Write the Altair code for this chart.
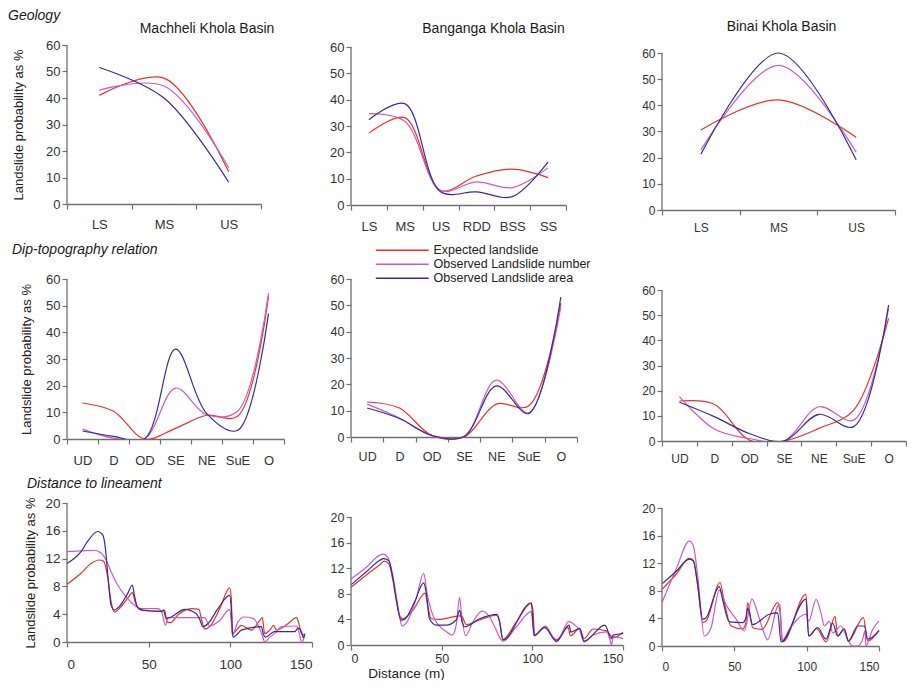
import altair as alt
import pandas as pd

FONT = "Liberation Sans"
SERIES = ["Expected landslide", "Observed Landslide number", "Observed Landslide area"]
COLORS = ["#e5322a", "#c65bc8", "#372d8e"]
AXIS_GREY = "#707070"

# ---------------- categories ----------------
geo3_cats = ["LS", "MS", "US"]
geo6_cats = ["LS", "MS", "US", "RDD", "BSS", "SS"]
dip_cats = ["UD", "D", "OD", "SE", "NE", "SuE", "O"]

# ---------------- Geology ----------------
machheli_geo_expected = [41.0, 47.5, 12.2]
machheli_geo_number = [43.0, 44.5, 13.7]
machheli_geo_area = [51.5, 40.0, 8.2]

banganga_geo_expected = [27.3, 33.2, 5.5, 11.0, 13.6, 10.4]
banganga_geo_number = [34.7, 31.8, 5.5, 8.8, 6.6, 14.1]
banganga_geo_area = [32.4, 38.5, 5.0, 5.0, 3.2, 16.4]

binai_geo_expected = [30.6, 42.1, 27.8]
binai_geo_number = [23.0, 55.3, 22.1]
binai_geo_area = [21.3, 60.0, 19.2]

# ---------------- Dip-topography ----------------
machheli_dip_expected = [13.5, 10.4, 0.0, 4.0, 8.9, 8.5, 53.5]
machheli_dip_number = [3.7, 0.3, 0.0, 19.1, 9.1, 10.4, 54.7]
machheli_dip_area = [3.0, 1.0, 0.0, 33.7, 9.6, 3.2, 47.0]

banganga_dip_expected = [13.3, 11.0, 0.6, 0.0, 12.5, 11.8, 50.8]
banganga_dip_number = [12.5, 7.2, 0.6, 0.2, 21.6, 9.1, 49.5]
banganga_dip_area = [11.0, 7.0, 0.6, 0.2, 19.4, 8.9, 53.1]

binai_dip_expected = [15.9, 14.6, 0.4, 0.0, 5.0, 12.3, 48.7]
binai_dip_number = [17.6, 4.8, 1.0, 0.0, 13.6, 8.3, 52.7]
binai_dip_area = [15.4, 9.7, 3.0, 0.0, 10.6, 5.7, 54.0]

# ---------------- Distance to lineament ----------------
m_exp_x = [0, 8.6, 14.7, 19.8, 22.5, 25, 27, 29, 32, 37.2, 40, 41.7, 43.8, 47.4, 57.7, 59.7, 61.3, 63.4, 67.9, 76, 80.8, 82.2, 84.3, 87.3, 93.5, 99.6, 100.6, 101.2, 103.7, 106.7, 112.9, 118, 119.6, 121, 124.1, 126.6, 128.2, 135.4, 140.5, 142, 143.6, 145.6]
m_exp_y = [8.3, 9.9, 11.3, 11.8, 11.6, 9.2, 5.8, 4.3, 4.8, 6.3, 7.1, 5.8, 4.8, 4.5, 4.4, 4.6, 2.9, 2.8, 3.9, 4.8, 4.7, 3.4, 1.9, 2.2, 4.8, 7.8, 6.3, 1.2, 1.7, 2.4, 1.7, 3.1, 3.5, 1.2, 1.7, 2.4, 1.7, 2.65, 3.5, 2.65, 1.2, 1.0]
m_num_x = [0, 8.6, 16.8, 20.9, 23.9, 27, 31, 36.2, 41.3, 45.4, 55.6, 58, 60.3, 61.8, 84.3, 87.3, 93.5, 99.6, 100.6, 101.2, 104.7, 108.4, 113.9, 118, 120.2, 121, 124.1, 127, 131.3, 140.5, 142, 143.6, 145, 145.6]
m_num_y = [13.0, 13.1, 13.2, 12.8, 11.8, 10.1, 8.2, 6.5, 5.3, 4.8, 4.8, 4.3, 2.4, 3.5, 3.5, 2.3, 3.1, 4.7, 2.9, 1.0, 2.9, 3.6, 3.4, 1.9, 0.5, 0.0, 0.7, 1.2, 2.2, 2.3, 1.45, 0.0, 0.5, 1.0]
m_area_x = [0, 8.6, 12.7, 18.8, 21.9, 23.5, 25, 27, 29, 32, 37.2, 40, 41.3, 43, 46.4, 57.7, 59, 60.7, 63.8, 72, 79, 81, 83.2, 86.3, 92.4, 99.6, 100.6, 101.6, 103.7, 106.7, 119, 120.4, 121.5, 127, 139.5, 141.5, 143.6, 144.6, 145.6]
m_area_y = [11.3, 13.0, 14.5, 15.9, 15.4, 13.5, 9.6, 5.3, 4.6, 5.1, 7.0, 8.2, 6.7, 5.1, 4.6, 4.4, 4.6, 3.4, 3.6, 4.7, 4.1, 3.4, 2.2, 2.65, 4.8, 6.7, 4.8, 0.7, 1.0, 1.7, 2.2, 1.0, 0.7, 1.5, 1.5, 2.0, 1.45, 0.6, 1.2]

b_exp_x = [0, 8.3, 15.7, 18.4, 20.8, 23, 24.9, 26.7, 28.5, 34.1, 40.9, 42.3, 44.2, 48.8, 59.9, 61.3, 63.5, 70.9, 80.1, 81.6, 83.8, 91.2, 99.4, 100.4, 101.3, 106.8, 113.3, 119.7, 121, 126.1, 128.5, 133.5, 140.9, 144.6, 150]
b_exp_y = [9.0, 10.9, 12.5, 13.1, 12.7, 10.3, 7.2, 4.65, 4.1, 5.4, 8.1, 6.2, 4.1, 4.0, 4.55, 4.4, 3.2, 3.9, 4.65, 4.0, 0.9, 3.6, 6.5, 5.2, 1.55, 2.85, 0.8, 2.75, 1.45, 2.6, 1.0, 2.5, 2.2, 1.15, 2.0]
b_num_x = [0, 8.3, 15.7, 17.9, 20.3, 23, 24.9, 26.7, 28.2, 30.4, 35.9, 40.1, 42, 46, 52.5, 55.8, 58, 59.9, 60.8, 63.2, 67.2, 72.4, 76.4, 79.2, 83.8, 91.2, 99.4, 101, 107.2, 113.3, 120.3, 123.4, 126.1, 128.5, 133.5, 140.9, 142.7, 143.6, 144.6, 150]
b_num_y = [10.3, 12.1, 14.0, 14.2, 13.7, 10.9, 7.75, 4.65, 2.95, 3.4, 7.2, 11.2, 8.0, 4.1, 2.1, 1.55, 3.1, 7.45, 5.2, 1.45, 3.6, 5.3, 4.4, 2.85, 0.6, 2.85, 5.2, 1.45, 2.95, 0.5, 3.7, 3.1, 2.3, 0.5, 1.55, 2.05, 1.0, 0.0, 1.3, 1.0]
b_area_x = [0, 8.3, 15.7, 17.9, 20.8, 23, 24.9, 27.6, 29.5, 35, 40.1, 41.4, 43.3, 47, 52.5, 58, 59.9, 61.3, 62.6, 70.9, 80.5, 82, 83.8, 99.4, 101, 106.8, 113.3, 120.3, 121.2, 126.1, 128.5, 140, 143.6, 144.6, 150]
b_area_y = [9.4, 11.4, 13.2, 13.5, 13.2, 10.6, 7.2, 3.9, 4.0, 6.7, 9.7, 8.3, 4.1, 3.1, 3.1, 3.9, 5.4, 3.6, 2.85, 4.1, 4.8, 3.6, 0.8, 6.6, 1.45, 2.7, 0.6, 3.1, 2.0, 2.6, 0.6, 3.1, 1.0, 1.55, 1.8]

n_exp_x = [0, 9.7, 18.9, 21.7, 24.7, 28.1, 30.4, 40.1, 43.1, 47.7, 55.8, 58, 59.2, 62.7, 69.1, 80, 81.6, 83.4, 99.5, 101.4, 106.9, 113.4, 119.6, 121.4, 126, 128.8, 139.2, 142.2, 150]
n_exp_y = [8.2, 10.4, 12.7, 12.4, 8.7, 3.4, 3.6, 9.2, 6.3, 2.9, 2.5, 3.4, 6.3, 2.65, 2.4, 6.3, 4.8, 0.6, 7.5, 1.45, 2.5, 0.6, 4.3, 1.45, 2.4, 0.7, 4.1, 0.7, 2.3]
n_num_x = [0, 9.7, 18.9, 21.7, 24.7, 29.3, 33.9, 39.6, 44.2, 51.2, 56.9, 62.2, 66.1, 69.6, 73, 80, 81.6, 82.9, 88, 99.5, 101.4, 106.5, 109.9, 112.2, 115.7, 118, 123.7, 128.3, 131.8, 135.3, 138.7, 140.3, 141, 145.6, 150]
n_num_y = [6.3, 11.1, 15.2, 14.5, 10.1, 1.45, 2.65, 8.1, 6.0, 3.9, 2.2, 6.8, 4.8, 2.4, 0.9, 5.8, 6.0, 0.7, 2.4, 4.6, 3.6, 6.75, 4.8, 2.9, 3.6, 1.9, 2.9, 1.0, 0.0, 0.0, 1.0, 2.2, 0.0, 2.4, 3.6]
n_area_x = [0, 9.7, 18.9, 21.7, 24.7, 28.1, 30.4, 39.6, 41.9, 46.5, 55.8, 58, 59.2, 62.7, 74.2, 80, 82.3, 99.5, 101.4, 107.6, 113.4, 118, 121.4, 126, 128.8, 135.3, 139.9, 142.2, 150]
n_area_y = [9.0, 10.8, 12.6, 12.3, 8.9, 3.9, 4.1, 8.6, 6.7, 3.5, 3.4, 4.1, 5.5, 3.1, 4.6, 4.8, 0.6, 6.8, 1.45, 2.65, 1.0, 3.3, 1.45, 2.5, 0.7, 2.9, 2.9, 1.0, 2.2]

YTITLE = "Landslide probability as %"


def y_axis(ticks, lab, h, ytitle_x):
    ax = dict(values=ticks, labelFontSize=lab, title=None, domain=False)
    if ytitle_x is not None:
        ax.update(title=YTITLE, titleX=ytitle_x, titleY=h / 2, titleAngle=270,
                  titleAlign="center", titleBaseline="middle", titleFontSize=13,
                  titleFontWeight="normal", titleColor="#222222")
    return alt.Axis(**ax)


def finish(lines, ticks, yscale, yaxis, w, h, title):
    # axis line drawn from 0 to the top tick (the plot area may reach a bit higher)
    rule_df = pd.DataFrame({"value": [ticks[0]], "value_end": [ticks[-1]]})
    rule = alt.Chart(rule_df).mark_rule(color=AXIS_GREY, strokeWidth=1.3).encode(
        x=alt.value(0),
        y=alt.Y("value:Q", scale=yscale, axis=yaxis),
        y2="value_end:Q",
    )
    ch = alt.layer(lines, rule).properties(width=w, height=h)
    if title is not None:
        ch = ch.properties(title=title)
    return ch


def cat_panel(cats, vals, w, hr, ext, ymax, ystep, lab, pad, clip=False, title=None,
              ytitle_x=None, legend=None):
    rows = [{"cat": c, "series": s, "value": v}
            for s, vv in zip(SERIES, vals) for c, v in zip(cats, vv)]
    df = pd.DataFrame(rows)
    h = hr + ext
    ticks = list(range(0, ymax + 1, ystep))
    yscale = alt.Scale(domain=[0, ymax * h / hr], nice=False)
    yaxis = y_axis(ticks, lab, h + ext, ytitle_x)
    lines = alt.Chart(df).mark_line(interpolate="catmull-rom", strokeWidth=1.2, clip=clip).encode(
        x=alt.X("cat:N", sort=cats,
                scale=alt.Scale(type="band", paddingInner=0, paddingOuter=0),
                axis=alt.Axis(title=None, tickBand="extent", labelAngle=0,
                              labelFontSize=lab, labelPadding=pad)),
        y=alt.Y("value:Q", scale=yscale, axis=yaxis),
        color=alt.Color("series:N", scale=alt.Scale(domain=SERIES, range=COLORS), legend=legend),
    )
    return finish(lines, ticks, yscale, yaxis, w, h, title)


def dist_panel(xy, w, hr, ext, lab, pad, title=None, ytitle_x=None, xtitle=None):
    rows = []
    for s, (xs, ys) in zip(SERIES, xy):
        for a, b in zip(xs, ys):
            rows.append({"dist": a, "series": s, "value": b})
    df = pd.DataFrame(rows)
    h = hr + ext
    ticks = [0, 4, 8, 12, 16, 20]
    yscale = alt.Scale(domain=[0, 20 * h / hr], nice=False)
    yaxis = y_axis(ticks, lab, h + ext, ytitle_x)
    xax = dict(values=[0, 50, 100, 150], labelFontSize=lab, labelPadding=pad, title=None)
    if xtitle is not None:
        xax.update(title=xtitle[0], titleX=xtitle[1], titleY=xtitle[2], titleAlign="center",
                   titleBaseline="alphabetic", titleFontSize=13.5, titleFontWeight="normal",
                   titleColor="#222222")
    lines = alt.Chart(df).mark_line(interpolate="monotone", strokeWidth=1.2).encode(
        x=alt.X("dist:Q", scale=alt.Scale(domain=[0, 150], nice=False), axis=alt.Axis(**xax)),
        y=alt.Y("value:Q", scale=yscale, axis=yaxis),
        color=alt.Color("series:N", scale=alt.Scale(domain=SERIES, range=COLORS), legend=None),
    )
    return finish(lines, ticks, yscale, yaxis, w, h, title)


def spacer(h, title=None):
    ch = alt.Chart(pd.DataFrame({"v": [0]})).mark_point(opacity=0, size=1).encode(
        x=alt.value(0), y=alt.value(0)).properties(width=1, height=h)
    if title is not None:
        ch = ch.properties(title=title)
    return ch


def ttl(text, anchor, dx, offset, italic=False):
    kw = dict(anchor=anchor, frame="group", dx=dx, offset=offset)
    if italic:
        kw["fontStyle"] = "italic"
    return alt.TitleParams(text, **kw)


legend = alt.Legend(title=None, orient="none", legendX=45, legendY=-35, symbolType="M-5,0H5",
                    symbolSize=112, symbolStrokeWidth=1.3, labelOffset=25, labelFontSize=12.5,
                    labelFont=FONT, labelColor="#222222", rowPadding=1, padding=0, labelLimit=0)

# row 1 (plot tops aligned at the highest one; lower panels get a taller area above the top tick)
p1 = cat_panel(geo3_cats, [machheli_geo_expected, machheli_geo_number, machheli_geo_area],
               194, 159, 0, 60, 10, 13, 9, ytitle_x=-49,
               title=ttl("Machheli Khola Basin", "middle", 43, 3.3))
p2 = cat_panel(geo6_cats, [banganga_geo_expected, banganga_geo_number, banganga_geo_area],
               215, 158, 2, 60, 10, 13, 10,
               title=ttl("Banganga Khola Basin", "middle", 35, 5.3))
p3 = cat_panel(geo3_cats, [binai_geo_expected, binai_geo_number, binai_geo_area],
               233, 157, 8, 60, 10, 12, 7.6,
               title=ttl("Binai Khola Basin", "middle", 3, 11))

# row 2
p4 = cat_panel(dip_cats, [machheli_dip_expected, machheli_dip_number, machheli_dip_area],
               217, 160, 0, 60, 10, 13, 10, clip=True, ytitle_x=-41,
               title=ttl("Dip-topography relation", "start", -55, 16, italic=True))
p5 = cat_panel(dip_cats, [banganga_dip_expected, banganga_dip_number, banganga_dip_area],
               226, 158, 0, 60, 10, 12.5, 8.4, legend=legend)
p6 = cat_panel(dip_cats, [binai_dip_expected, binai_dip_number, binai_dip_area],
               244, 151, 11, 60, 10, 12, 7.6, clip=True)

# row 3
p7 = dist_panel([(m_exp_x, m_exp_y), (m_num_x, m_num_y), (m_area_x, m_area_y)],
                245, 139, 0, 13.5, 10.3, ytitle_x=-37,
                title=ttl("Distance to lineament", "start", -40, 5.5, italic=True))
p8 = dist_panel([(b_exp_x, b_exp_y), (b_num_x, b_num_y), (b_area_x, b_area_y)],
                272, 128, 14, 12.5, 2, xtitle=("Distance (m)", 55, 32))
p9 = dist_panel([(n_exp_x, n_exp_y), (n_num_x, n_num_y), (n_area_x, n_area_y)],
                217, 138, 5, 12, 10.6)

cells = [
    spacer(1, ttl("Geology", "start", -59, 20.5, italic=True)), spacer(1), spacer(1),
    p1, p2, p3,
    spacer(69), spacer(69), spacer(69),
    p4, p5, p6,
    spacer(62), spacer(62), spacer(62),
    p7, p8, p9,
]

chart = alt.concat(
    *cells, columns=3, align="each", bounds="flush", spacing={"row": 0, "column": 39}
).properties(
    padding={"top": 1, "left": 0, "right": 0, "bottom": 0}
).resolve_scale(color="independent").resolve_legend(
    color="independent"
).configure_view(stroke=None).configure_axis(
    domainColor=AXIS_GREY, tickColor=AXIS_GREY, domainWidth=1.3, tickWidth=1.2, tickSize=5,
    labelColor="#333333", labelFont=FONT, titleFont=FONT, grid=False
).configure_title(
    font=FONT, fontSize=14, fontWeight="normal", color="#1a1a1a"
).configure_legend(labelFont=FONT)

chart.save("out.html", embed_options={"renderer": "svg", "actions": False})
